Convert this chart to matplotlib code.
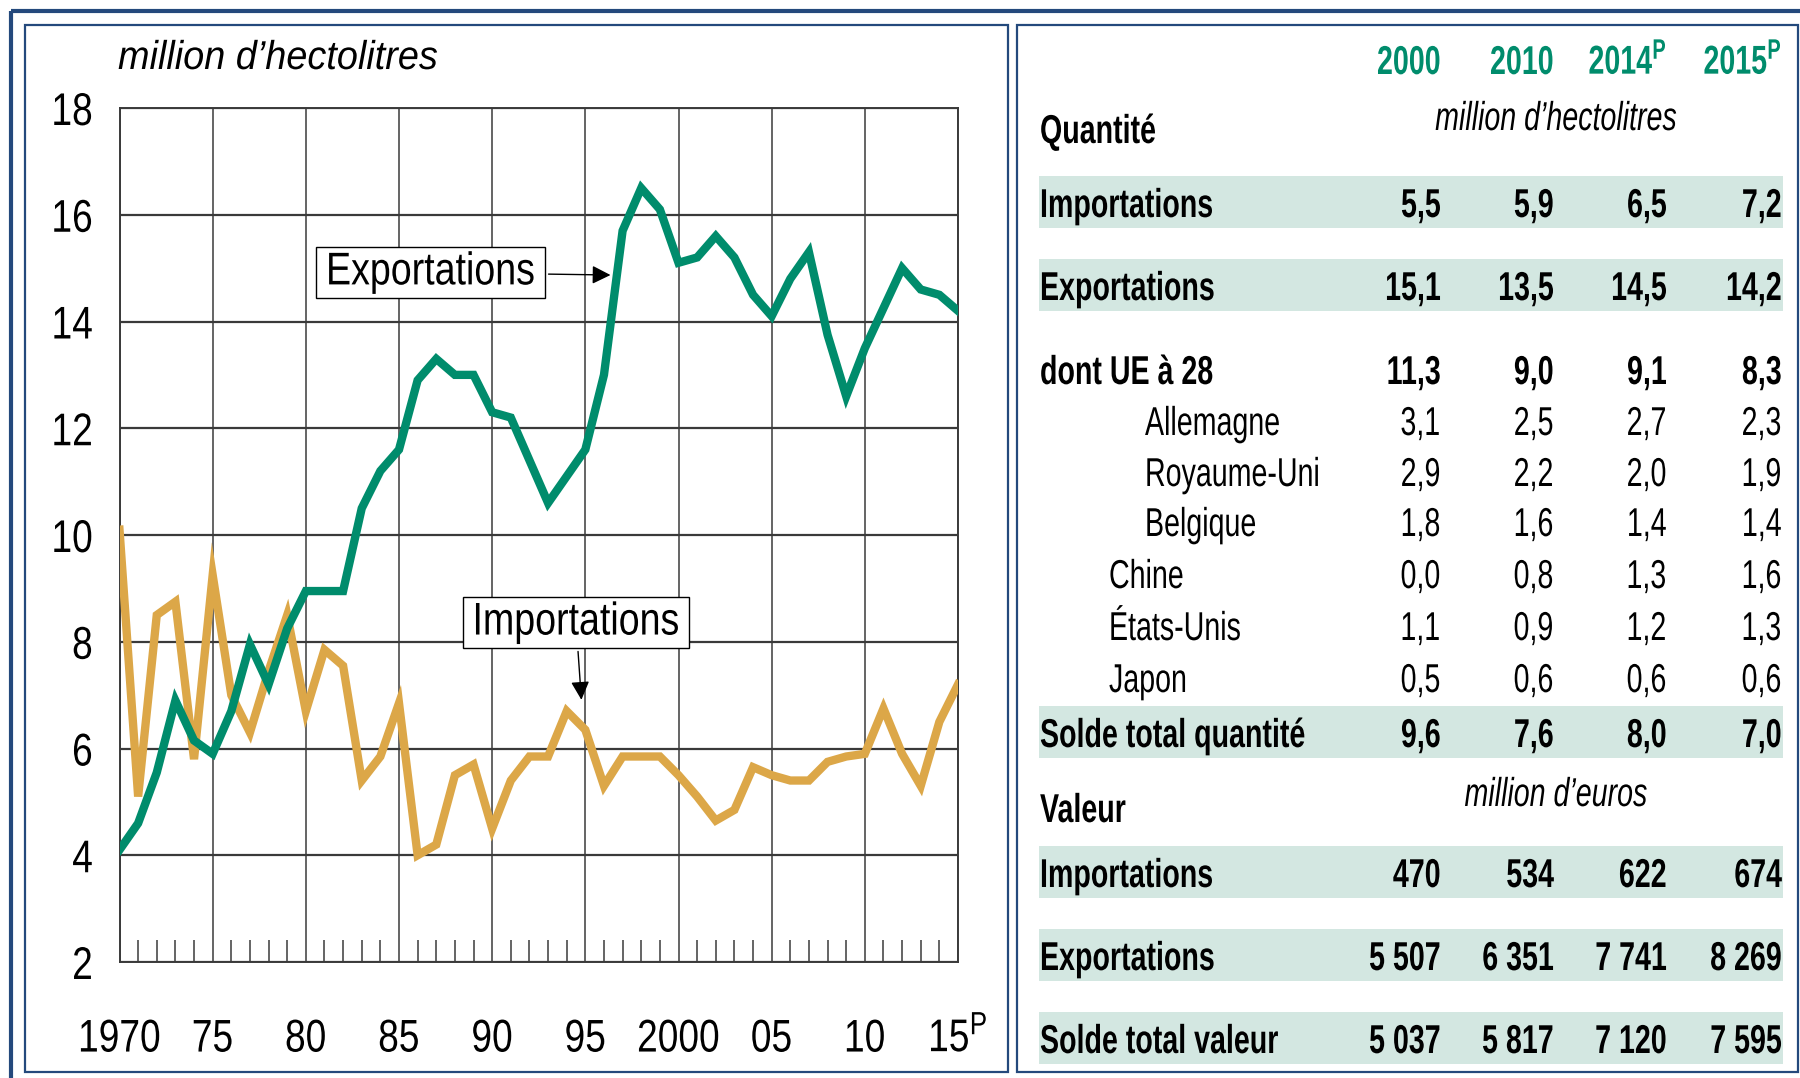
import matplotlib
matplotlib.use("Agg")
import matplotlib.pyplot as plt
from matplotlib.patches import Rectangle
from matplotlib.patheffects import AbstractPathEffect
from matplotlib.path import Path
from matplotlib.transforms import Affine2D, Bbox

# Données du graphique (million d'hectolitres)
years = list(range(1970, 2016))
exportations = [4.1, 4.6, 5.55, 6.9, 6.15, 5.9, 6.7, 7.95, 7.2, 8.25,
                8.95, 8.95, 8.95, 10.5, 11.2, 11.6, 12.9, 13.3, 13.0, 13.0,
                12.3, 12.2, 11.4, 10.6, 11.1, 11.6, 13.0, 15.7, 16.5, 16.1,
                15.1, 15.2, 15.6, 15.2, 14.5, 14.1, 14.8, 15.3, 13.75, 12.6,
                13.5, 14.25, 15.0, 14.6, 14.5, 14.2]
importations = [10.1, 5.1, 8.5, 8.75, 5.8, 9.25, 7.0, 6.3, 7.45, 8.5,
                6.7, 7.85, 7.55, 5.4, 5.85, 6.85, 4.0, 4.2, 5.5, 5.7,
                4.5, 5.4, 5.85, 5.85, 6.7, 6.35, 5.3, 5.85, 5.85, 5.85,
                5.5, 5.1, 4.65, 4.85, 5.65, 5.5, 5.4, 5.4, 5.75, 5.85,
                5.9, 6.75, 5.9, 5.3, 6.5, 7.2]
xtick_years = [1970, 1975, 1980, 1985, 1990, 1995, 2000, 2005, 2010, 2015]
xtick_labels = ["1970", "75", "80", "85", "90", "95", "2000", "05", "10", r"15$^{\mathrm{P}}$"]
yticks = [2, 4, 6, 8, 10, 12, 14, 16, 18]

# Données du tableau
table_years = [r"2000", r"2010", r"2014$^{\mathbf{P}}$", r"2015$^{\mathbf{P}}$"]
imp_q = [5.5, 5.9, 6.5, 7.2]
exp_q = [15.1, 13.5, 14.5, 14.2]
ue28 = [11.3, 9.0, 9.1, 8.3]
allemagne = [3.1, 2.5, 2.7, 2.3]
royaume_uni = [2.9, 2.2, 2.0, 1.9]
belgique = [1.8, 1.6, 1.4, 1.4]
chine = [0.0, 0.8, 1.3, 1.6]
etats_unis = [1.1, 0.9, 1.2, 1.3]
japon = [0.5, 0.6, 0.6, 0.6]
solde_q = [9.6, 7.6, 8.0, 7.0]
imp_v = [470, 534, 622, 674]
exp_v = [5507, 6351, 7741, 8269]
solde_v = [5037, 5817, 7120, 7595]

GREEN = "#008c6c"
ORANGE = "#dca748"
BAND = "#d3e7e1"
BLUE = "#24497c"
GRID = "#3a3a3a"

plt.rcParams["font.family"] = ["Liberation Sans", "DejaVu Sans"]
plt.rcParams["mathtext.fontset"] = "custom"
plt.rcParams["mathtext.rm"] = "Liberation Sans"
plt.rcParams["mathtext.bf"] = "Liberation Sans:bold"
plt.rcParams["mathtext.it"] = "Liberation Sans:italic"

ALIGN = {"left": 0.0, "center": 0.5, "right": 1.0}


# Texte condensé horizontalement (pas de police "Narrow" installée)
class Squeeze(AbstractPathEffect):
    def __init__(self, sx, ha):
        super().__init__()
        self.sx = sx
        self.k = ALIGN[ha]

    def draw_path(self, renderer, gc, tpath, affine, rgbFace=None):
        shift = self.k * (1 - self.sx) * tpath.get_extents().x1
        t = Affine2D().scale(self.sx, 1).translate(shift, 0) + affine
        renderer.draw_path(gc, tpath, t, rgbFace)


def narrow(t, sx):
    ha = t.get_horizontalalignment()
    t.set_path_effects([Squeeze(sx, ha)])
    orig = t.get_window_extent

    def extent(renderer=None, dpi=None):
        bb = orig(renderer, dpi)
        w = bb.width * sx
        return Bbox.from_bounds(bb.x0 + ALIGN[ha] * (bb.width - w), bb.y0, w, bb.height)

    t.get_window_extent = extent
    return t


def squeezed_box(sx, padx, pady):
    def box(x0, y0, width, height, mutation_size):
        w = width * sx + 2 * padx * mutation_size
        h = height + 2 * pady * mutation_size
        x = x0 + width / 2 - w / 2
        y = y0 - pady * mutation_size
        return Path([(x, y), (x + w, y), (x + w, y + h), (x, y + h), (x, y)], closed=True)
    return box


W, H = 1800, 1078
fig = plt.figure(figsize=(W / 100, H / 100), dpi=100)
pix = Affine2D().scale(1 / W, -1 / H).translate(0, 1) + fig.transFigure

# Cadres
fig.add_artist(Rectangle((11, 11), W + 20, H + 20, transform=pix, fill=False,
                         edgecolor=BLUE, lw=3))
fig.add_artist(Rectangle((25, 25), 983, 1047, transform=pix, fill=False,
                         edgecolor=BLUE, lw=1.6))
fig.add_artist(Rectangle((1017, 25), 781, 1047, transform=pix, fill=False,
                         edgecolor=BLUE, lw=1.6))

# Graphique
x0, x1, y0, y1 = 119.5, 958, 108, 962
ax = fig.add_axes([x0 / W, 1 - y1 / H, (x1 - x0) / W, (y1 - y0) / H])
ax.set_xlim(1970, 2015)
ax.set_ylim(2, 18)
ax.set_xticks(xtick_years)
ax.set_xticklabels(xtick_labels)
ax.set_xticks(years, minor=True)
ax.set_yticks(yticks)
ax.set_yticklabels([str(v) for v in yticks])
ax.tick_params(axis="both", which="major", length=0, labelsize=33, colors="black")
ax.tick_params(axis="x", which="major", pad=40)
ax.tick_params(axis="y", which="major", pad=19)
ax.tick_params(axis="x", which="minor", direction="in", length=16, width=1.1, color=GRID)
ax.grid(axis="y", color=GRID, lw=1.6)
ax.grid(axis="x", which="major", color=GRID, lw=1.1)
for s in ax.spines.values():
    s.set_color(GRID)
    s.set_linewidth(1.4)
for lbl in ax.get_xticklabels() + ax.get_yticklabels():
    narrow(lbl, 0.81)

ax.plot(years, importations, color=ORANGE, lw=6, solid_joinstyle="miter", zorder=3)
ax.plot(years, exportations, color=GREEN, lw=6, solid_joinstyle="miter", zorder=4)

box = dict(boxstyle=squeezed_box(0.82, 0.22, 0.08), fc="white", ec="black", lw=1)
arrow = dict(arrowstyle="-|>", color="black", lw=1, mutation_scale=28)
a1 = ax.annotate("Exportations", xy=(1996.5, 14.87), xytext=(1986.7, 14.92),
                 fontsize=33, ha="center", va="center", bbox=box, arrowprops=arrow)
a2 = ax.annotate("Importations", xy=(1994.8, 6.86), xytext=(1994.5, 8.36),
                 fontsize=33, ha="center", va="center", bbox=box, arrowprops=arrow)
for a in (a1, a2):
    a.set_path_effects([Squeeze(0.82, "center")])

narrow(fig.text(118, 69, "million d\u2019hectolitres", transform=pix, fontsize=29,
                style="italic", ha="left", va="baseline"), 0.94)

# Tableau
SXT = 0.71
col_x = [1441, 1554, 1667, 1782]
for x, lab in zip(col_x, table_years):
    narrow(fig.text(x, 74, lab, transform=pix, fontsize=29, fontweight="bold",
                    color=GREEN, ha="right", va="baseline"), SXT)


def fmt_q(v):
    return f"{v:.1f}".replace(".", ",")


def fmt_v(v):
    return f"{v:,}".replace(",", " ")


rows = [
    ("Importations", imp_q, 217, 1040, True, True, fmt_q),
    ("Exportations", exp_q, 300, 1040, True, True, fmt_q),
    ("dont UE à 28", ue28, 384, 1040, True, False, fmt_q),
    ("Allemagne", allemagne, 435, 1145, False, False, fmt_q),
    ("Royaume-Uni", royaume_uni, 486, 1145, False, False, fmt_q),
    ("Belgique", belgique, 536, 1145, False, False, fmt_q),
    ("Chine", chine, 588, 1109, False, False, fmt_q),
    ("États-Unis", etats_unis, 640, 1109, False, False, fmt_q),
    ("Japon", japon, 692, 1109, False, False, fmt_q),
    ("Solde total quantité", solde_q, 747, 1040, True, True, fmt_q),
    ("Importations", imp_v, 887, 1040, True, True, fmt_v),
    ("Exportations", exp_v, 970, 1040, True, True, fmt_v),
    ("Solde total valeur", solde_v, 1053, 1040, True, True, fmt_v),
]
for label, vals, base, lx, bold, band, fmt in rows:
    if band:
        fig.add_artist(Rectangle((1039, base - 41), 744, 52, transform=pix,
                                 facecolor=BAND, edgecolor="none", zorder=0))
    w = "bold" if bold else "normal"
    narrow(fig.text(lx, base, label, transform=pix, fontsize=29, fontweight=w,
                    ha="left", va="baseline"), SXT)
    for x, v in zip(col_x, vals):
        narrow(fig.text(x, base, fmt(v), transform=pix, fontsize=29, fontweight=w,
                        ha="right", va="baseline"), SXT)

for txt, x, y, kw in [("Quantité", 1040, 143, dict(fontweight="bold", ha="left")),
                      ("million d\u2019hectolitres", 1556, 130, dict(style="italic", ha="center")),
                      ("Valeur", 1040, 822, dict(fontweight="bold", ha="left")),
                      ("million d\u2019euros", 1556, 806, dict(style="italic", ha="center"))]:
    narrow(fig.text(x, y, txt, transform=pix, fontsize=29, va="baseline", **kw), SXT)

fig.savefig("out.png", dpi=100)
